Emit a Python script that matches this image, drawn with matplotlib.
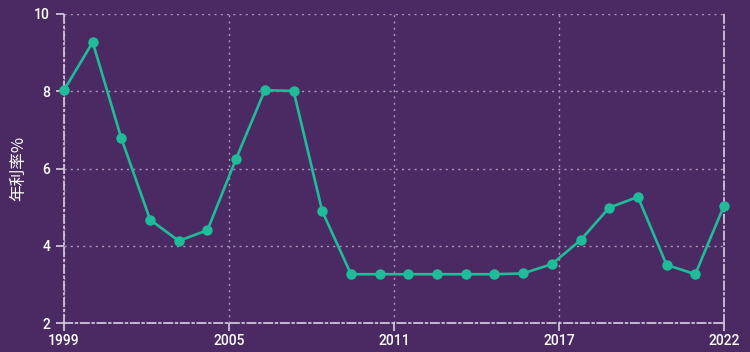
import matplotlib
matplotlib.use("Agg")
import matplotlib.pyplot as plt
import numpy as np

years = list(range(1999, 2023))
rates = [8.03, 9.27, 6.78, 4.68, 4.13, 4.41, 6.26, 8.03, 8.01, 4.90,
         3.27, 3.27, 3.27, 3.27, 3.27, 3.27, 3.29, 3.53, 4.15, 4.99,
         5.27, 3.51, 3.27, 5.04]
tick_labels = ["1999", "2005", "2011", "2017", "2022"]
y_ticks = [2, 4, 6, 8, 10]
y_label = "年利率%"

bg = "#4b2a63"
line_color = "#1fbc9a"
axis_color = "#d8cfe0"
grid_color = "#a896bd"

plt.rcParams['font.family'] = ['Roboto', 'Noto Sans CJK SC', 'DejaVu Sans']

fig = plt.figure(figsize=(7.5, 3.52), dpi=100, facecolor=bg)
ax = fig.add_axes([64/750, (352-323.3)/352, (724-64)/750, (323.3-14)/352])
ax.set_facecolor(bg)

ax.plot(years, rates, color=line_color, lw=1.9, marker='o', markersize=7.5,
        markeredgewidth=0, zorder=5, clip_on=False)

ax.set_xlim(years[0], years[-1])
ax.set_ylim(2, 10)
xt = np.linspace(years[0], years[-1], len(tick_labels))
ax.set_xticks(xt)
ax.set_xticklabels(tick_labels)
ax.set_yticks(y_ticks)

ax.grid(True, color=grid_color, linestyle=(0, (1.5, 3)), linewidth=1.0)
for s in ['left', 'bottom', 'right']:
    ax.spines[s].set_color(axis_color)
    ax.spines[s].set_linestyle((0, (5, 2, 1, 2)))
    ax.spines[s].set_linewidth(1.2)
ax.spines['top'].set_visible(False)

ax.tick_params(axis='both', colors=axis_color, length=6, width=1.2,
               labelcolor='white', labelsize=10)
ax.tick_params(axis='y', pad=4)
ax.tick_params(axis='x', pad=2)
for lab in ax.get_xticklabels() + ax.get_yticklabels():
    lab.set_fontweight('medium')

ax.set_ylabel(y_label, color='white', fontsize=12,
              family=['Noto Sans CJK SC', 'DejaVu Sans'], labelpad=5)

fig.savefig("out.png", dpi=100, facecolor=bg)
